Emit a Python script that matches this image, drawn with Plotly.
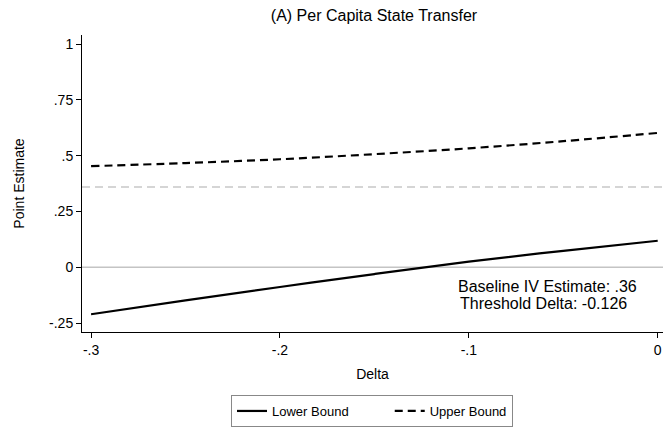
import plotly.graph_objects as go

delta = [-0.30, -0.25, -0.20, -0.15, -0.10, -0.05, 0.00]
lower_bound = [-0.210, -0.148, -0.088, -0.030, 0.026, 0.074, 0.119]
upper_bound = [0.453, 0.467, 0.484, 0.507, 0.533, 0.565, 0.602]
baseline_iv = 0.36
threshold_delta = -0.126

x_ticks = [-0.3, -0.2, -0.1, 0.0]
x_tick_labels = ["-.3", "-.2", "-.1", "0"]
y_ticks = [-0.25, 0, 0.25, 0.5, 0.75, 1]
y_tick_labels = ["-.25", "0", ".25", ".5", ".75", "1"]
series_names = ["Lower Bound", "Upper Bound"]

FONT = "Liberation Sans, Arial, sans-serif"
NBSP = "\u00a0"

fig = go.Figure()

# reference lines
fig.add_shape(type="line", xref="paper", yref="y", x0=0, x1=1, y0=0, y1=0,
              line=dict(color="#c4c4c4", width=1.5), layer="below")
fig.add_shape(type="line", xref="paper", yref="y", x0=0, x1=1, y0=baseline_iv, y1=baseline_iv,
              line=dict(color="#c8c8c8", width=1.6, dash="8px,5px"), layer="below")

fig.add_trace(go.Scatter(x=delta, y=lower_bound, mode="lines", name=series_names[0] + NBSP * 10,
                         line=dict(color="black", width=2.2, shape="spline")))
fig.add_trace(go.Scatter(x=delta, y=upper_bound, mode="lines", name=series_names[1],
                         line=dict(color="black", width=2.2, dash="8px,5px", shape="spline")))

fig.add_annotation(x=-0.1068, y=-0.087, xref="x", yref="y", text="Baseline IV Estimate: .36",
                   showarrow=False, xanchor="left", yanchor="middle",
                   font=dict(family=FONT, size=16, color="black"))
fig.add_annotation(x=-0.1056, y=-0.163, xref="x", yref="y",
                   text="Threshold Delta: " + str(threshold_delta),
                   showarrow=False, xanchor="left", yanchor="middle",
                   font=dict(family=FONT, size=16, color="black"))

fig.update_layout(
    width=663, height=427,
    margin=dict(l=82, r=0, t=35, b=93),
    paper_bgcolor="white", plot_bgcolor="white",
    font=dict(family=FONT, size=14, color="black"),
    title=dict(text="(A) Per Capita State Transfer", xref="paper", x=0.5026, xanchor="center",
               yref="container", y=0.965, yanchor="middle",
               font=dict(family=FONT, size=16, color="black")),
    showlegend=True,
    legend=dict(orientation="h", x=(231 - 82) / 581, xanchor="left", y=-0.214, yanchor="top",
                bordercolor="#888888", borderwidth=1, bgcolor="white",
                font=dict(family=FONT, size=13, color="black")),
    xaxis=dict(range=[-0.3048, 0.0028], tickvals=x_ticks, ticktext=x_tick_labels,
               showgrid=False, zeroline=False, showline=True, linecolor="black", linewidth=1,
               ticks="outside", ticklen=5, tickcolor="black", tickfont=dict(size=14),
               automargin=False,
               title=dict(text="Delta", font=dict(size=14), standoff=12)),
    yaxis=dict(range=[-0.2895, 1.0405], tickvals=y_ticks, ticktext=y_tick_labels,
               showgrid=False, zeroline=False, showline=True, linecolor="black", linewidth=1,
               ticks="outside", ticklen=5, tickcolor="black", tickfont=dict(size=14),
               automargin=False,
               title=dict(text="Point Estimate", font=dict(size=14), standoff=21)),
)

fig.write_html("out.html",
               config={"displayModeBar": False},
               post_script="document.body.style.margin='0';document.body.style.overflow='hidden';")
